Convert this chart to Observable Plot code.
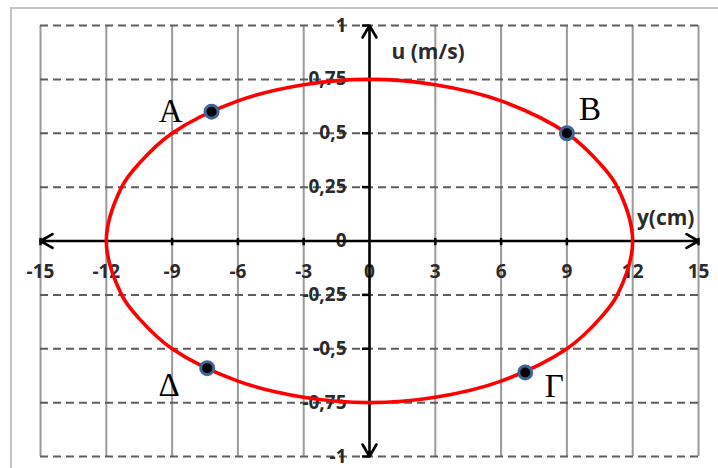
<!DOCTYPE html>
<html>
<head>
<meta charset="utf-8">
<script src="https://cdn.jsdelivr.net/npm/d3@7"></script>
<script src="https://cdn.jsdelivr.net/npm/@observablehq/plot@0.6"></script>
<style>
  html, body { margin: 0; padding: 0; background: #fff; }
  #wrap { position: relative; width: 718px; height: 468px; overflow: hidden; }
  #frame { position: absolute; left: 10px; top: 7px; right: -5px; bottom: -5px;
           border-top: 2px solid #c4c4c4; border-left: 2px solid #c4c4c4; }
  #chart { position: absolute; left: 0; top: 0; }
</style>
</head>
<body>
<div id="wrap"><div id="frame"></div><div id="chart"></div></div>
<script>
// x positions (cm) and velocity ticks (m/s)
const xTicks = [-15, -12, -9, -6, -3, 0, 3, 6, 9, 12, 15];
const xTickLabels = ["-15", "-12", "-9", "-6", "-3", "0", "3", "6", "9", "12", "15"];
const uTicks = [1, 0.75, 0.5, 0.25, 0, -0.25, -0.5, -0.75, -1];
const uTickLabels = ["1", "0,75", "0,5", "0,25", "0", "-0,25", "-0,5", "-0,75", "-1"];

// points of the red curve (closed loop)
const curveY = [-12, -11.3, -10.5, -9, -6, -3, 0, 3, 6, 9, 10.5, 11.3, 12,
                11.3, 10.5, 9, 6, 3, 0, -3, -6, -9, -10.5, -11.3];
const curveU = [0, 0.25, 0.36, 0.5, 0.65, 0.725, 0.75, 0.725, 0.65, 0.5, 0.36, 0.25, 0,
                -0.25, -0.36, -0.5, -0.65, -0.725, -0.75, -0.725, -0.65, -0.5, -0.36, -0.25];

// marked states
const ptNames = ["A", "B", "Γ", "Δ"];
const ptY = [-7.2, 9, 7.1, -7.4];
const ptU = [0.6, 0.5, -0.61, -0.59];

const curve = curveY.map((y, i) => ({y, u: curveU[i]}));
const pts = ptNames.map((n, i) => ({n, y: ptY[i], u: ptU[i]}));
const labelOffsets = {"A": [-41, 0], "B": [23, -24], "Γ": [29, 14], "Δ": [-38, 17]};
const xt = xTicks.map((v, i) => ({v, t: xTickLabels[i]}));
const ut = uTicks.map((v, i) => ({v, t: uTickLabels[i]}));

const tickFont = {fontFamily: "Open Sans", fontSize: 19, fontWeight: 700, fill: "#2a2a2a"};

const ptLabelMarks = ptNames.map(n => Plot.text(pts.filter(d => d.n === n), {
  x: "y", y: "u", text: "n",
  dx: labelOffsets[n][0], dy: labelOffsets[n][1],
  fontFamily: "Liberation Serif", fontSize: 33, fill: "#000", textAnchor: "middle"
}));

const plot = Plot.plot({
  width: 718,
  height: 468,
  marginLeft: 40,
  marginRight: 20,
  marginTop: 25,
  marginBottom: 12,
  x: {domain: [-15, 15], axis: null},
  y: {domain: [-1, 1], axis: null},
  style: {background: "transparent", overflow: "visible"},
  marks: [
    // vertical solid grid
    Plot.ruleX(xTicks.filter(d => d !== 0), {y1: -1, y2: 1, stroke: "#9a9a9a", strokeWidth: 2}),
    // horizontal dashed grid
    Plot.ruleY(uTicks.filter(d => d !== 0), {x1: -15, x2: 15, stroke: "#5e5e5e", strokeWidth: 2, strokeDasharray: "8,5"}),
    // y tick labels
    Plot.text(ut, {x: 0, y: "v", text: "t", dx: -23, textAnchor: "end", ...tickFont}),
    // x tick labels
    Plot.text(xt, {x: "v", y: 0, text: "t", dy: 31, textAnchor: "middle", ...tickFont}),
    // axes with arrows
    Plot.arrow([{x1: 0, x2: 15}, {x1: 0, x2: -15}], {x1: "x1", x2: "x2", y1: 0, y2: 0, stroke: "#000", strokeWidth: 2.6, headLength: 8, headAngle: 60}),
    Plot.arrow([{y1: 0, y2: 1}, {y1: 0, y2: -1}], {x1: 0, x2: 0, y1: "y1", y2: "y2", stroke: "#000", strokeWidth: 2.6, headLength: 8, headAngle: 60}),
    // axis ticks
    Plot.ruleX(xTicks.filter(d => d !== 0), {y1: -0.022, y2: 0.012, stroke: "#000", strokeWidth: 2.5}),
    Plot.ruleY(uTicks.filter(d => d !== 0), {x1: -0.32, x2: 0, stroke: "#000", strokeWidth: 2.5}),
    // axis titles
    Plot.text(["u (m/s)"], {x: 0, y: 1, dx: 22, dy: 27, textAnchor: "start", fontFamily: "Open Sans", fontSize: 21, fontWeight: 700, fill: "#2b2b2b"}),
    Plot.text(["y(cm)"], {x: 15, y: 0, dx: -4, dy: -23, textAnchor: "end", fontFamily: "Open Sans", fontSize: 21, fontWeight: 700, fill: "#2b2b2b"}),
    // red curve
    Plot.line(curve, {x: "y", y: "u", curve: "catmull-rom-closed", stroke: "#ff0000", strokeWidth: 3.6}),
    // points
    Plot.dot(pts, {x: "y", y: "u", r: 6.5, fill: "#000", stroke: "#3d6698", strokeWidth: 3}),
    ...ptLabelMarks
  ]
});

document.getElementById("chart").appendChild(plot);
</script>
</body>
</html>
